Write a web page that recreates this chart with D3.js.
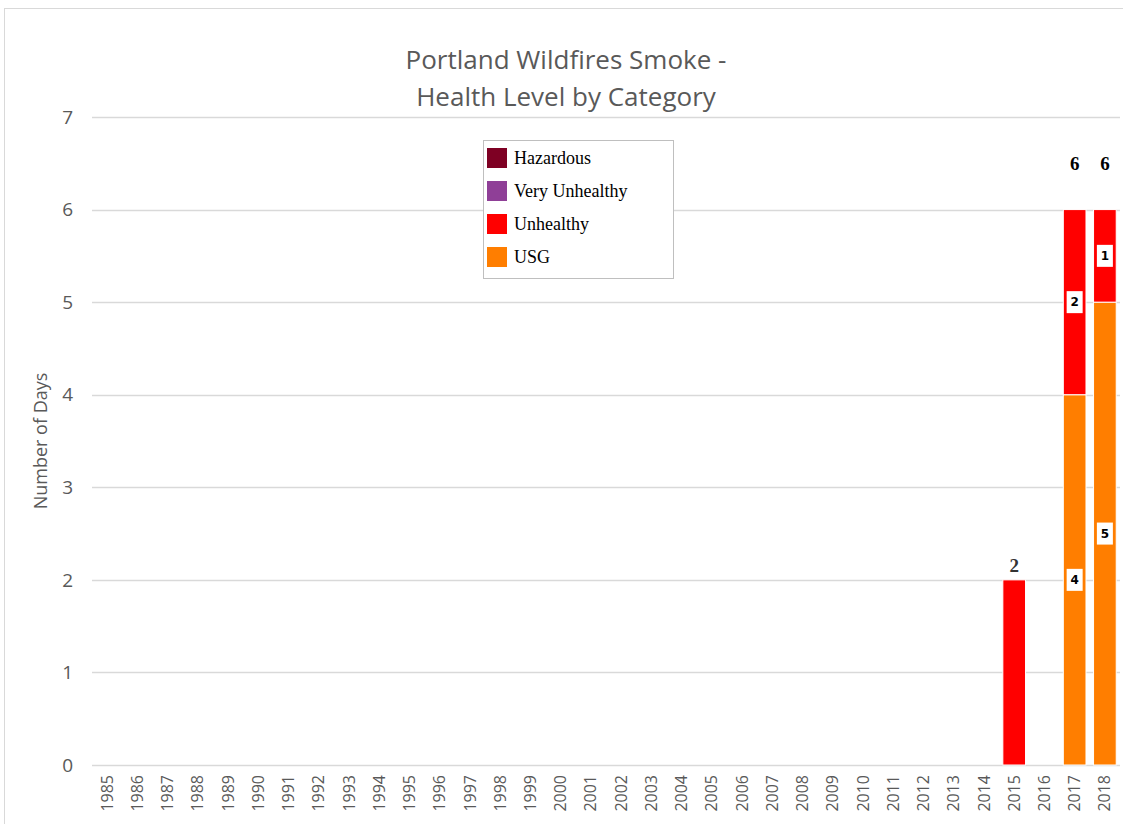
<!DOCTYPE html>
<html>
<head>
<meta charset="utf-8">
<script src="https://cdn.jsdelivr.net/npm/d3@7"></script>
<style>
  body { margin: 0; background: #fff; }
  svg { display: block; }
</style>
</head>
<body>
<div id="chart"></div>
<script>
// years on the x axis
const years = d3.range(1985, 2019).map(String);

// categories, bottom to top of the stack
const categories = ["USG", "Unhealthy", "Very Unhealthy", "Hazardous"];
const colors = ["#FF7E00", "#FF0000", "#8F3F97", "#7E0023"];

// days per year in each category (only years with smoke days)
const usgDays = { "2017": 4, "2018": 5 };
const unhealthyDays = { "2015": 2, "2017": 2, "2018": 1 };
const veryUnhealthyDays = {};
const hazardousDays = {};

const yTicks = [0, 1, 2, 3, 4, 5, 6, 7];

const W = 1123, H = 824;
const margin = { top: 117, right: 3, bottom: 59, left: 92 };
const width = W - margin.left - margin.right;
const height = H - margin.top - margin.bottom;

const table = years.map(y => ({
  year: y,
  "USG": usgDays[y] || 0,
  "Unhealthy": unhealthyDays[y] || 0,
  "Very Unhealthy": veryUnhealthyDays[y] || 0,
  "Hazardous": hazardousDays[y] || 0
}));

const svg = d3.select("#chart").append("svg")
  .attr("width", W)
  .attr("height", H);

// outer chart border
svg.append("rect")
  .attr("x", 4.5).attr("y", 8.5)
  .attr("width", W + 10).attr("height", H + 10)
  .attr("fill", "none")
  .attr("stroke", "#d9d9d9");

const g = svg.append("g")
  .attr("transform", `translate(${margin.left},${margin.top})`);

const x = d3.scaleBand().domain(years).range([0, width]).paddingInner(0.25).paddingOuter(0.125);
const y = d3.scaleLinear().domain([0, 7]).range([height, 0]);

// gridlines
g.append("g")
  .selectAll("line")
  .data(yTicks)
  .enter().append("line")
  .attr("x1", 0).attr("x2", width)
  .attr("y1", d => Math.round(y(d)) + 0.5)
  .attr("y2", d => Math.round(y(d)) + 0.5)
  .attr("stroke", "#d9d9d9")
  .attr("stroke-width", 1.3);

// y tick labels
g.append("g")
  .selectAll("text")
  .data(yTicks)
  .enter().append("text")
  .attr("x", -19)
  .attr("y", d => y(d))
  .attr("dy", "0.35em")
  .attr("text-anchor", "end")
  .attr("font-family", "Open Sans, sans-serif")
  .attr("font-size", 19)
  .attr("fill", "#595959")
  .text(d => d);

// x axis labels (rotated)
const xAxis = g.append("g")
  .attr("transform", `translate(0,${height})`)
  .call(d3.axisBottom(x).tickSize(0).tickPadding(0));
xAxis.select(".domain").remove();
xAxis.selectAll("text")
  .attr("transform", "rotate(-90)")
  .attr("x", -10)
  .attr("y", 0)
  .attr("dy", "0.35em")
  .attr("text-anchor", "end")
  .attr("font-family", "Open Sans, sans-serif")
  .attr("font-size", 16)
  .attr("fill", "#595959");

// stacked bars
const stack = d3.stack().keys(categories)(table);

const layers = g.append("g")
  .selectAll("g")
  .data(stack)
  .enter().append("g")
  .attr("fill", (d, i) => colors[i]);

layers.selectAll("rect")
  .data(d => d.filter(s => s[1] - s[0] > 0))
  .enter().append("rect")
  .attr("x", d => x(d.data.year))
  .attr("y", d => y(d[1]))
  .attr("width", x.bandwidth())
  .attr("height", d => y(d[0]) - y(d[1]))
  .attr("stroke", "#fff")
  .attr("stroke-width", 1);

// segment labels (only on stacked years with more than one category)
const multi = table.filter(d => categories.filter(c => d[c] > 0).length > 1).map(d => d.year);

stack.forEach(layer => {
  layer.filter(s => s[1] - s[0] > 0 && multi.includes(s.data.year)).forEach(s => {
    const cx = x(s.data.year) + x.bandwidth() / 2;
    const cy = y((s[0] + s[1]) / 2);
    const lg = g.append("g").attr("transform", `translate(${cx},${cy})`);
    lg.append("rect")
      .attr("x", -8).attr("y", -11)
      .attr("width", 16).attr("height", 22)
      .attr("fill", "#fff");
    lg.append("text")
      .attr("text-anchor", "middle")
      .attr("dy", "0.35em")
      .attr("font-family", "DejaVu Sans, sans-serif")
      .attr("font-weight", "bold")
      .attr("font-size", 12)
      .attr("fill", "#000")
      .text(s[1] - s[0]);
  });
});

// totals above bars
table.forEach(d => {
  const total = d3.sum(categories, c => d[c]);
  if (total === 0) return;
  g.append("text")
    .attr("x", x(d.year) + x.bandwidth() / 2)
    .attr("y", multi.includes(d.year) ? y(total) - 40 : y(total) - 8)
    .attr("text-anchor", "middle")
    .attr("font-family", "Liberation Serif, serif")
    .attr("font-weight", "bold")
    .attr("font-size", 19)
    .attr("fill", multi.includes(d.year) ? "#000" : "#333")
    .text(total);
});

// y axis title
svg.append("text")
  .attr("transform", `translate(47,${margin.top + height / 2}) rotate(-90)`)
  .attr("text-anchor", "middle")
  .attr("font-family", "Open Sans, sans-serif")
  .attr("font-size", 18)
  .attr("fill", "#595959")
  .text("Number of Days");

// title
const title = svg.append("text")
  .attr("text-anchor", "middle")
  .attr("font-family", "Open Sans, sans-serif")
  .attr("font-size", 26)
  .attr("fill", "#595959");
title.append("tspan").attr("x", 566).attr("y", 69).text("Portland Wildfires Smoke -");
title.append("tspan").attr("x", 566).attr("y", 106).text("Health Level by Category");

// legend
const legend = svg.append("g").attr("transform", "translate(483,140)");
legend.append("rect")
  .attr("x", 0.5).attr("y", 0.5)
  .attr("width", 190).attr("height", 138)
  .attr("fill", "#fff")
  .attr("stroke", "#bfbfbf");

const legendOrder = categories.slice().reverse();
const legendColors = colors.slice().reverse();
const item = legend.selectAll(".item")
  .data(legendOrder)
  .enter().append("g")
  .attr("class", "item")
  .attr("transform", (d, i) => `translate(4,${8 + i * 33})`);

item.append("rect")
  .attr("width", 20).attr("height", 20)
  .attr("fill", (d, i) => legendColors[i]);

item.append("text")
  .attr("x", 27).attr("y", 10)
  .attr("dy", "0.35em")
  .attr("font-family", "Liberation Serif, serif")
  .attr("font-size", 18)
  .attr("fill", "#000")
  .text(d => d);
</script>
</body>
</html>
